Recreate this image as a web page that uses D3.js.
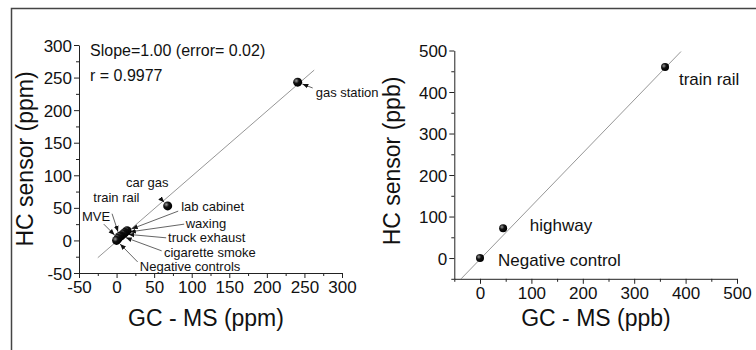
<!DOCTYPE html>
<html>
<head>
<meta charset="utf-8">
<script src="https://cdn.jsdelivr.net/npm/d3@7"></script>
<style>
  body { margin: 0; background: #fff; }
  svg { display: block; font-family: "Liberation Sans", Arial, sans-serif; }
</style>
</head>
<body>
<div id="chart"></div>
<script>
// left panel: ppm samples
const ppmNames = ["gas station", "car gas", "lab cabinet", "waxing", "truck exhaust", "cigarette smoke", "train rail", "MVE", "Negative controls"];
const ppmGcms = [241, 68, 14, 11, 9, 6, 4, 2, 0];
const ppmSensor = [243, 53, 15, 12, 10, 7, 6, 3, 0];
// label anchor + arrow tail, in data units
const ppmLabelX = [265, 12.5, 86, 92, 68.5, 63, -31, -46, 31];
const ppmLabelY = [220, 82, 45, 19, -2.5, -25, 59, 30, -47];
const ppmTailX = [261, 58, 82, 90, 66, 60, -6, -17, 28];
const ppmTailY = [234, 65, 45, 25, 4, -16, 41, 25, -33];
const ppmTicks = [-50, 0, 50, 100, 150, 200, 250, 300];
const ppmFit = { slope: 1.00, intercept: -1.5, from: -25, to: 263 };

// right panel: ppb samples
const ppbNames = ["train rail", "highway", "Negative control"];
const ppbGcms = [360, 45, 0];
const ppbSensor = [460, 72, 0];
const ppbLabelX = [387, 97, 35];
const ppbLabelY = [417, 65, -19];
const ppbXTicks = [0, 100, 200, 300, 400, 500];
const ppbYTicks = [0, 100, 200, 300, 400, 500];
const ppbFit = { slope: 1.28, intercept: -3, from: -37, to: 391 };

const width = 756, height = 350;

const svg = d3.select("#chart").append("svg")
    .attr("width", width)
    .attr("height", height);

// radial shading for the ball markers
const grad = svg.append("defs").append("radialGradient")
    .attr("id", "ball")
    .attr("cx", "35%").attr("cy", "35%").attr("r", "65%");
grad.append("stop").attr("offset", "0%").attr("stop-color", "#9a9a9a");
grad.append("stop").attr("offset", "45%").attr("stop-color", "#111");
grad.append("stop").attr("offset", "100%").attr("stop-color", "#000");

svg.append("marker")
    .attr("id", "arrow")
    .attr("viewBox", "0 0 10 10")
    .attr("refX", 10).attr("refY", 5)
    .attr("markerWidth", 6).attr("markerHeight", 6)
    .attr("markerUnits", "userSpaceOnUse")
    .attr("orient", "auto")
    .append("path")
    .attr("d", "M0,1 L10,5 L0,9 Z")
    .attr("fill", "#111");

// outer frame (top + left only)
svg.append("path")
    .attr("d", "M11.5,350 V8.5 H756")
    .attr("fill", "none")
    .attr("stroke", "#444")
    .attr("stroke-width", 1.5);

const plainNum = d => String(d); // hyphen minus like the original, not U+2212

const drawPanel = (opt) => {
    const x = d3.scaleLinear().domain(opt.xDomain).range(opt.xRange);
    const y = d3.scaleLinear().domain(opt.yDomain).range(opt.yRange);
    const g = svg.append("g");

    const styleAxis = a => a
        .call(a => a.select(".domain").attr("stroke", "#222"))
        .call(a => a.selectAll(".tick line").attr("stroke", "#222"))
        .call(a => a.selectAll("text").attr("fill", "#111").attr("font-size", 17).attr("font-family", null));

    // minor ticks first, majors on top
    g.append("g")
        .attr("transform", `translate(0,${opt.yRange[0]})`)
        .call(d3.axisBottom(x).tickValues(opt.xMinor).tickSize(3).tickFormat(""))
        .call(a => a.select(".domain").remove())
        .call(a => a.selectAll("line").attr("stroke", "#222"));
    g.append("g")
        .attr("transform", `translate(${opt.xRange[0]},0)`)
        .call(d3.axisLeft(y).tickValues(opt.yMinor).tickSize(3).tickFormat(""))
        .call(a => a.select(".domain").remove())
        .call(a => a.selectAll("line").attr("stroke", "#222"));

    g.append("g")
        .attr("transform", `translate(0,${opt.yRange[0]})`)
        .call(d3.axisBottom(x).tickValues(opt.xTicks).tickFormat(plainNum).tickSize(5).tickSizeOuter(0).tickPadding(3))
        .call(styleAxis);
    g.append("g")
        .attr("transform", `translate(${opt.xRange[0]},0)`)
        .call(d3.axisLeft(y).tickValues(opt.yTicks).tickFormat(plainNum).tickSize(5).tickSizeOuter(0).tickPadding(2))
        .call(styleAxis)
        .call(a => a.selectAll("text").attr("dy", "0.36em"));

    // fitted line
    const fit = opt.fit;
    g.append("line")
        .attr("x1", x(fit.from)).attr("y1", y(fit.slope * fit.from + fit.intercept))
        .attr("x2", x(fit.to)).attr("y2", y(fit.slope * fit.to + fit.intercept))
        .attr("stroke", "#8a8a8a")
        .attr("stroke-width", 0.9);

    // axis titles
    g.append("text")
        .attr("x", opt.xTitlePos[0]).attr("y", opt.xTitlePos[1])
        .attr("text-anchor", "middle")
        .attr("font-size", 23)
        .attr("fill", "#111")
        .text(opt.xTitle);
    g.append("text")
        .attr("transform", `translate(${opt.yTitlePos[0]},${opt.yTitlePos[1]}) rotate(-90)`)
        .attr("text-anchor", "middle")
        .attr("font-size", 23)
        .attr("fill", "#111")
        .text(opt.yTitle);

    // arrows from labels to points
    if (opt.tailX) {
        g.append("g").selectAll("line")
            .data(opt.names)
            .join("line")
            .each(function (d, i) {
                const x1 = x(opt.tailX[i]), y1 = y(opt.tailY[i]);
                const px = x(opt.xs[i]), py = y(opt.ys[i]);
                const len = Math.hypot(px - x1, py - y1);
                const k = Math.max(0, (len - 5) / len);
                d3.select(this)
                    .attr("x1", x1).attr("y1", y1)
                    .attr("x2", x1 + (px - x1) * k).attr("y2", y1 + (py - y1) * k);
            })
            .attr("stroke", "#222")
            .attr("stroke-width", 0.7)
            .attr("marker-end", "url(#arrow)");
    }

    // points
    g.append("g").selectAll("circle")
        .data(opt.names)
        .join("circle")
        .attr("cx", (d, i) => x(opt.xs[i]))
        .attr("cy", (d, i) => y(opt.ys[i]))
        .attr("r", opt.r)
        .attr("fill", "url(#ball)");

    // labels
    g.append("g").selectAll("text")
        .data(opt.names)
        .join("text")
        .attr("x", (d, i) => x(opt.labelX[i]))
        .attr("y", (d, i) => y(opt.labelY[i]))
        .attr("font-size", opt.labelSize)
        .attr("fill", "#111")
        .text(d => d);

    return { x, y, g };
};

const left = drawPanel({
    xDomain: [-50, 300], xRange: [79, 342],
    yDomain: [-50, 300], yRange: [273, 45],
    xTicks: ppmTicks, yTicks: ppmTicks,
    xMinor: d3.range(-25, 300, 50), yMinor: d3.range(-25, 300, 50),
    fit: ppmFit,
    xTitle: "GC - MS (ppm)", xTitlePos: [206, 326],
    yTitle: "HC sensor (ppm)", yTitlePos: [33, 159],
    names: ppmNames, xs: ppmGcms, ys: ppmSensor,
    labelX: ppmLabelX, labelY: ppmLabelY,
    tailX: ppmTailX, tailY: ppmTailY,
    r: 4.5, labelSize: 13
});

left.g.append("text")
    .attr("x", 90).attr("y", 56)
    .attr("font-size", 16)
    .attr("fill", "#111")
    .text("Slope=1.00 (error= 0.02)");
left.g.append("text")
    .attr("x", 90).attr("y", 81)
    .attr("font-size", 16)
    .attr("fill", "#111")
    .text("r = 0.9977");

drawPanel({
    xDomain: [-50, 500], xRange: [454.3, 737],
    yDomain: [-50, 500], yRange: [278.8, 50.5],
    xTicks: ppbXTicks, yTicks: ppbYTicks,
    xMinor: d3.range(-50, 500, 100), yMinor: d3.range(-50, 500, 100),
    fit: ppbFit,
    xTitle: "GC - MS (ppb)", xTitlePos: [596, 326],
    yTitle: "HC sensor (ppb)", yTitlePos: [400, 161],
    names: ppbNames, xs: ppbGcms, ys: ppbSensor,
    labelX: ppbLabelX, labelY: ppbLabelY,
    r: 4, labelSize: 17
});
</script>
</body>
</html>
